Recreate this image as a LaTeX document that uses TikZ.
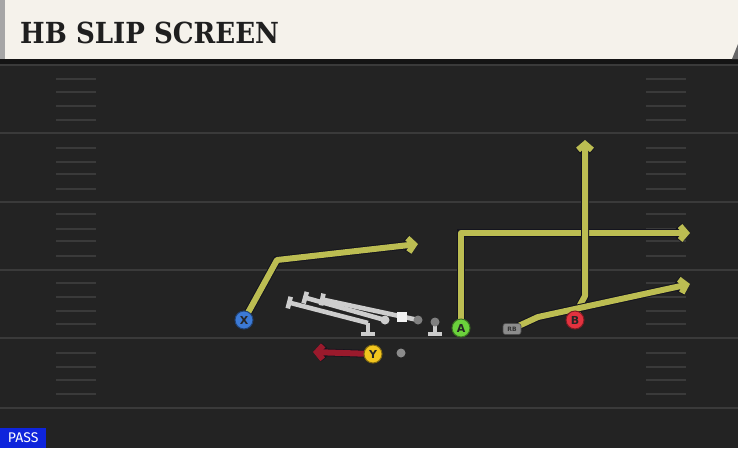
\documentclass[tikz,border=0pt]{standalone}
\usepackage{fontspec}
\setmainfont{DejaVu Sans}
\newfontfamily\titlefont{DejaVu Serif Bold}
\newfontfamily\tagfont{Fira Sans}
\usepackage{tikz}
\usetikzlibrary{arrows.meta, positioning}

\definecolor{fieldbg}{HTML}{232323}
\definecolor{fieldline}{HTML}{3A3A3A}
\definecolor{titlebg}{HTML}{F5F2EB}
\definecolor{routeyellow}{HTML}{BCBD52}
\definecolor{routeedge}{HTML}{14141E}
\definecolor{blockgrey}{HTML}{CDCDCD}
\definecolor{xblue}{HTML}{3C7AD6}
\definecolor{agreen}{HTML}{6BD23C}
\definecolor{bred}{HTML}{E2323F}
\definecolor{yyellow}{HTML}{F2C51E}
\definecolor{ymotion}{HTML}{9A1A2C}
\definecolor{passblue}{HTML}{0E24DC}

\pgfdeclarelayer{field}
\pgfdeclarelayer{routes}
\pgfsetlayers{field,routes,main}

\begin{document}
\begin{tikzpicture}[
        x=1pt, y=-1pt,
        player/.style={circle, draw=#1!55!black, fill=#1, line width=1pt, minimum size=18pt, inner sep=0pt,
            font=\bfseries\fontsize{11}{11}\selectfont, text=black!85},
        route/.style={line width=6pt, draw=routeyellow, line join=round,
            -{Straight Barb[length=6pt, width=14pt]},
            preaction={draw=routeedge, line width=8pt}},
        motion/.style={line width=6pt, draw=ymotion, -{Straight Barb[length=6pt, width=14pt]},
            preaction={draw=routeedge, line width=7.6pt}},
        block/.style={line width=4.6pt, draw=blockgrey, {Bar[width=12pt]}-},
        lineman/.style={fill=blockgrey, draw=none},
        yardline/.style={draw=fieldline, line width=2pt},
        hash/.style={draw=fieldline, line width=1.4pt}
    ]
    \useasboundingbox (0,0) rectangle (738,448);

    % Field
    \begin{pgfonlayer}{field}
        \fill[fieldbg] (0,0) rectangle (738,448);
        \foreach \yl in {65,133,202,270,338,408}
            \draw[yardline] (0,\yl) -- (738,\yl);
        \foreach \yh in {79,92,106,120,148,162,174,189,214,229,241,256,283,297,311,324,353,367,380,394} {
            \draw[hash] (56,\yh) -- (96,\yh);
            \draw[hash] (646,\yh) -- (686,\yh);
        }
        % Title bar
        \fill[black!92] (0,59) rectangle (738,64);
        \fill[titlebg] (5,0) rectangle (738,59);
        \fill[black!35] (0,0) rectangle (5,59);
        \fill[black!60] (738,44) -- (738,59) -- (732,59) -- cycle;
    \end{pgfonlayer}

    \node[anchor=base west, inner sep=0pt, text=black!88,
        font=\titlefont\fontsize{29}{29}\selectfont] (title) at (20,43) {\scalebox{0.9}[1]{HB SLIP SCREEN}};

    % Players
    \node[player=xblue] (X) at (244,320) {X};
    \node[player=agreen] (A) at (461,328) {A};
    \node[player=bred] (B) at (575,320) {B};
    \node[player=yyellow] (Y) at (373,354) {Y};
    \node[rounded corners=2.5pt, fill=black!45, draw=black!70, line width=0.6pt, minimum width=18pt, minimum height=11pt,
        inner sep=0pt, font=\bfseries\fontsize{6}{6}\selectfont, text=black!80] (RB) at (512,329) {RB};
    \node[circle, fill=black!45, minimum size=9pt, inner sep=0pt] (qb) at (401,353) {};

    % Offensive line
    \node[lineman, circle, minimum size=9pt, inner sep=0pt] (lg) at (385,320) {};
    \node[lineman, fill=white!95!black, minimum size=10pt, inner sep=0pt] (c) at (402,317) {};
    \node[lineman, circle, fill=black!50, minimum size=9pt, inner sep=0pt] (rg) at (418,320) {};
    \node[lineman, circle, fill=black!50, minimum size=9pt, inner sep=0pt] (rt) at (435,322) {};
    \coordinate (lt) at (368,323);

    % Routes
    \begin{pgfonlayer}{routes}
        \coordinate (xend) at (418,244);
        \coordinate (aend) at (690,233);
        \coordinate (bend) at (585,140);
        \coordinate (rbend) at (690,284);
        \coordinate (yend) at (313,352);
        \draw[route] (X.center) -- (277,260) -- (xend);
        \draw[route] (A.center) -- (461,233) -- (aend);
        \draw[route] (B.center) -- (580,305) -- (585,296) -- (bend);
        \draw[route] (RB.center) -- (538,317) -- (rbend);
        \draw[motion] (Y.center) -- (yend);
        % Blocking
        \draw[block] (287,302) -- (lt);
        \draw[block] (303,297) -- (lg.center);
        \draw[block] (320,299) -- (rg.center);
        \draw[line width=4.6pt, blockgrey] (lt) -- (368,333);
        \draw[line width=4.6pt, blockgrey] (361,334) -- (375,334);
        \draw[line width=4.6pt, blockgrey] (rt.center) -- (435,333);
        \draw[line width=4.6pt, blockgrey] (428,334) -- (442,334);
    \end{pgfonlayer}

    % Play type
    \node[anchor=south west, fill=passblue, text=white, minimum width=46pt, minimum height=20pt, inner sep=0pt,
        font=\tagfont\fontsize{14}{14}\selectfont] (pass) at (0,448) {PASS};
\end{tikzpicture}
\end{document}
